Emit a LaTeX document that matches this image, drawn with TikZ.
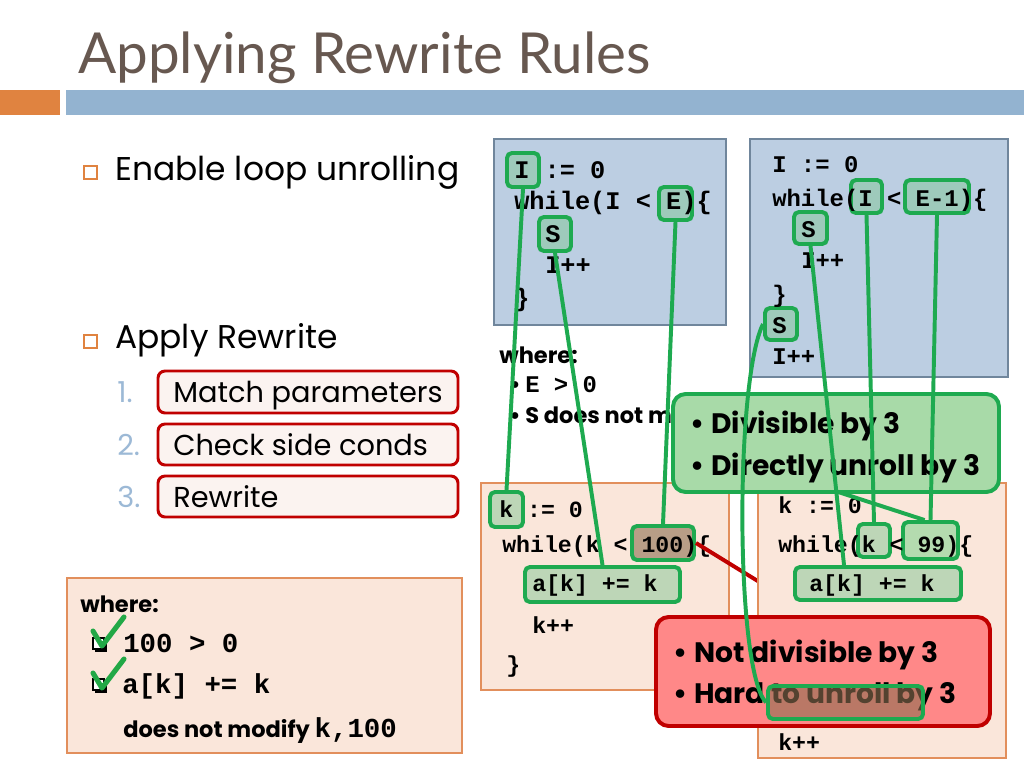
\documentclass[tikz,border=0pt]{standalone}
\usepackage{fontspec}
\setmainfont{Poppins}
\newfontfamily\titlefont{Lato}
\newfontfamily\codefont{Liberation Mono}
\usetikzlibrary{fit,calc}
\definecolor{titlec}{RGB}{103,88,80}
\definecolor{orbar}{RGB}{224,131,64}
\definecolor{blbar}{RGB}{147,179,208}
\definecolor{numc}{RGB}{156,185,214}
\definecolor{redc}{RGB}{192,0,0}
\definecolor{redfill}{RGB}{251,243,240}
\definecolor{bluefill}{RGB}{188,206,226}
\definecolor{bluedraw}{RGB}{112,134,156}
\definecolor{orfill}{RGB}{250,230,218}
\definecolor{ordraw}{RGB}{226,143,92}
\definecolor{gline}{RGB}{30,170,80}
\definecolor{gfill}{RGB}{168,218,168}
\definecolor{hlfill}{RGB}{130,200,150}
\definecolor{brownfill}{RGB}{140,110,80}
\definecolor{rfill}{RGB}{255,136,136}
\definecolor{checkc}{RGB}{34,168,70}
\begin{document}
\begin{tikzpicture}[x=0.025cm,y=-0.025cm,
  txt/.style={inner sep=0, anchor=base west},
  body/.style={txt, font=\fontsize{23.4pt}{27pt}\selectfont},
  sub/.style={txt, font=\fontsize{20.5pt}{24pt}\selectfont},
  codeL/.style={txt, font=\codefont\bfseries\fontsize{18pt}{20pt}\selectfont},
  code/.style={txt, font=\codefont\bfseries\fontsize{17pt}{20pt}\selectfont},
  codeO/.style={txt, font=\codefont\bfseries\fontsize{16.5pt}{20pt}\selectfont},
  wcode/.style={txt, font=\codefont\bfseries\fontsize{19.5pt}{22pt}\selectfont},
  wtxt/.style={txt, font=\bfseries\fontsize{16pt}{20pt}\selectfont},
  calltxt/.style={txt, font=\bfseries\fontsize{20pt}{22pt}\selectfont},
  hl/.style={draw=gline, line width=2.8pt, rounded corners=3.5pt, fill=hlfill, fill opacity=0.5, inner sep=0},
  hlgreen/.style={hl, fill=gfill, fill opacity=0.85},
  hlbrown/.style={hl, fill=brownfill, fill opacity=0.6},
  gconn/.style={draw=gline, line width=2.8pt},
  listbox/.style={draw=redc, line width=2.1pt, fill=redfill, rounded corners=5pt, inner sep=0},
  bluebox/.style={draw=bluedraw, line width=1.4pt, fill=bluefill, inner sep=0},
  orbox/.style={draw=ordraw, line width=1.4pt, fill=orfill, inner sep=0},
  callg/.style={draw=gline, line width=2.8pt, fill=gfill, rounded corners=9pt, inner sep=0},
  callr/.style={draw=redc, line width=2.8pt, fill=rfill, rounded corners=9pt, inner sep=0},
  bul/.style={orbar, line width=0.9pt},
  cbox/.style={draw=black, line width=1.3pt}
]
\useasboundingbox (0,0) rectangle (1024,768);
\fill[white] (0,0) rectangle (1024,768);

% title and bars
\node[txt, text=titlec, font=\titlefont\fontsize{40.2pt}{44pt}\selectfont] (title) at (78,74) {Applying Rewrite Rules};
\fill[orbar] (0,90) rectangle (60,115);
\fill[blbar] (66,90) rectangle (1024,115);

% bullets
\draw[bul] (84,166) rectangle (97,179);
\node[body] (b1) at (115,181) {Enable loop unrolling};
\draw[bul] (84,335) rectangle (97,348);
\node[body] (b2) at (115,348) {Apply Rewrite};

% numbered list
\node[listbox, fit={(158,371) (458,413)}] (l1) {};
\node[listbox, fit={(158,424) (458,465)}] (l2) {};
\node[listbox, fit={(158,476) (458,517)}] (l3) {};
\node[sub, text=numc] (n1) at (117,402) {1.};
\node[sub, text=numc] (n2) at (117,455) {2.};
\node[sub, text=numc] (n3) at (117,507) {3.};
\node[sub] (t1) at (173,402) {Match parameters};
\node[sub] (t2) at (173,455) {Check side conds};
\node[sub] (t3) at (173,507) {Rewrite};

% bottom-left where box
\node[orbox, fit={(67,578) (462,753)}] (wbox) {};
\node[wtxt] (w1) at (80,612) {where:};
\fill[black] (95,640) rectangle (107,652);
\draw[cbox, fill=white] (93,638) rectangle (104,649);
\node[wcode] (w2) at (123,652) {100 > 0};
\fill[black] (95,681) rectangle (107,693);
\draw[cbox, fill=white] (93,679) rectangle (104,690);
\node[wcode] (w3) at (122,693) {a[k] += k};
\node[wtxt] (w4) at (123,737) {does not modify {\codefont\fontsize{19.5pt}{20pt}\selectfont k,100}};
\draw[checkc, line width=3.6pt, line cap=round, line join=round] (93,631) -- (102,646) -- (124,617);
\draw[checkc, line width=3.6pt, line cap=round, line join=round] (93,673) -- (102,688) -- (124,659);

% top-left blue box
\node[bluebox, fit={(494,139) (726,325)}] (bl) {};
\node[hl, fit={(507,153) (539,187)}] (hI) {};
\node[hl, fit={(659,187) (692,220)}] (hE) {};
\node[hl, fit={(539,217) (571,251)}] (hS) {};
\node[codeL] (c1) at (514,178) {I := 0};
\node[codeL] (c2) at (514,209) {while(I < E)\{};
\node[codeL] (c3) at (545,242) {S};
\node[codeL] (c4) at (545,273) {I++};
\node[codeL] (c5) at (514,306) {\}};

% top-right blue box
\node[bluebox, fit={(750,139) (1008,377)}] (br) {};
\node[hl, fit={(851,180) (882,213)}] (hI2) {};
\node[hl, fit={(905,180) (969,213)}] (hE2) {};
\node[hl, fit={(794,212) (827,244)}] (hSa) {};
\node[hl, fit={(765,308) (797,340)}] (hSb) {};
\node[code] (d1) at (772,172) {I := 0};
\node[code] (d2) at (772,206) {while(I < E-1)\{};
\node[code] (d3) at (801,237) {S};
\node[code] (d4) at (801,268) {I++};
\node[code] (d5) at (772,302) {\}};
\node[code] (d6) at (772,333) {S};
\node[code] (d7) at (772,364) {I++};

% where (pattern side conditions)
\node[wtxt] (p1) at (499,363) {where:};
\node[wtxt] (p2b) at (509,392) {•};
\node[code] (p2) at (525,392) {E > 0};
\node[wtxt] (p3b) at (509,423) {•};
\node[wtxt] (p3) at (525,423) {S does not m};

% bottom-left orange box
\node[orbox, fit={(481,483) (729,690)}] (ol) {};
\node[hl, fit={(490,492) (523,527)}] (hk) {};
\node[hlbrown, fit={(632,526) (694,560)}] (h100) {};
\node[hl, fit={(525,567) (680,602)}] (hak) {};
\node[codeO] (e1) at (499,517) {k := 0};
\node[codeO] (e2) at (502,552) {while(k < 100)\{};
\node[codeO] (e3) at (532,591) {a[k] += k};
\node[codeO] (e4) at (532,633) {k++};
\node[codeO] (e5) at (506,672) {\}};

% red pointer (behind right box)
\coordinate (rtip) at (800,607);
\draw[redc, line width=2.8pt] (h100.east) -- (rtip);

% bottom-right orange box
\node[orbox, fit={(758,483) (1006,758)}] (orr) {};
\node[hl, fit={(858,524) (890,557)}] (hk2) {};
\node[hlgreen, fit={(903,522) (958,559)}] (h99) {};
\node[hl, fit={(795,567) (961,600)}] (hak2) {};
\node[codeO] (f1) at (778,513) {k := 0};
\node[codeO] (f2) at (778,552) {while(k < 99)\{};
\node[codeO] (f3) at (809,591) {a[k] += k};
\node[codeO] (f4) at (809,632) {k++};
\node[codeO] (f5) at (778,750) {k++};

% green callout
\draw[gconn] ($(h99.north west)!0.4!(h99.north east)$) -- (832,490);
\node[callg, fit={(673,394) (999,492)}] (gc) {};
\node[calltxt] (g1b) at (690,433) {•};
\node[calltxt] (g1) at (711,433) {Divisible by 3};
\node[calltxt] (g2b) at (690,475) {•};
\node[calltxt] (g2) at (711,475) {Directly unroll by 3};

% red callout
\node[callr, fit={(656,617) (990,726)}] (rc) {};
\node[calltxt] (r1b) at (673,662) {•};
\node[calltxt] (r1) at (694,662) {Not divisible by 3};
\node[calltxt] (r2b) at (673,703) {•};
\node[calltxt] (r2) at (694,703) {Hard to unroll by 3};
\node[hlbrown, fit={(768,686) (923,719)}] (hh) {};

% connectors
\draw[gconn] (hI.south) -- (hk.north);
\draw[gconn] (hS.south) -- (hak.north);
\draw[gconn] (hE.south) -- (h100.north);
\draw[gconn] (hI2.south) -- (hk2.north);
\draw[gconn] (hE2.south) -- (h99.north);
\draw[gconn] (hSa.south) -- ($(hak2.north west)!0.3!(hak2.north east)$);
\draw[gconn] (hSb.west) .. controls (735,380) and (735,670) .. (hh.west);
\end{tikzpicture}
\end{document}
